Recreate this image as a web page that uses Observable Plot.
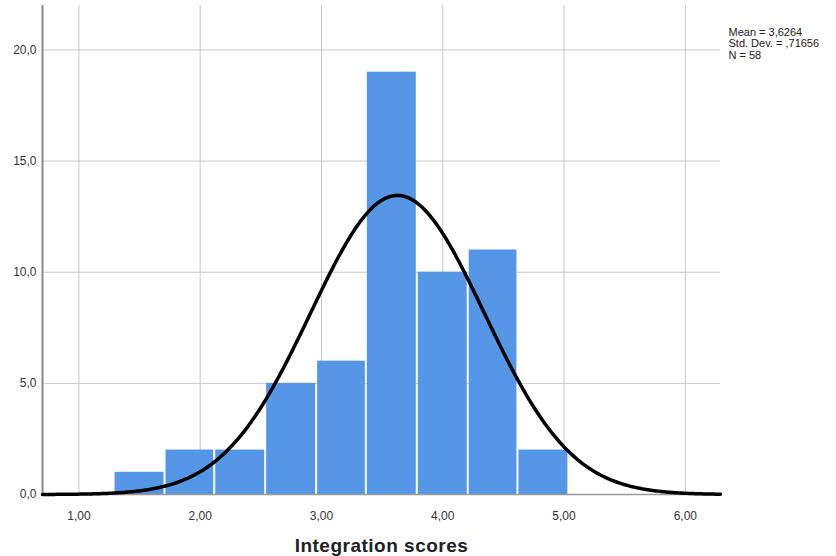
<!DOCTYPE html>
<html>
<head>
<meta charset="utf-8">
<script src="https://cdn.jsdelivr.net/npm/d3@7"></script>
<script src="https://cdn.jsdelivr.net/npm/@observablehq/plot@0.6"></script>
<style>
  html, body { margin: 0; padding: 0; background: #fff; }
  #chart { width: 836px; height: 556px; }
</style>
</head>
<body>
<div id="chart"></div>
<script>
// Histogram bin edges and counts
const binEdges = [1.29, 1.71, 2.12, 2.54, 2.96, 3.37, 3.79, 4.21, 4.62, 5.04];
const counts = [1, 2, 2, 5, 6, 19, 10, 11, 2];
// Reported statistics
const mean = 3.6264;
const stdDev = 0.71656;
const n = 58;
const statsLines = ["Mean = 3,6264", "Std. Dev. = ,71656", "N = 58"];
const xTicks = [1, 2, 3, 4, 5, 6];
const yTicks = [0, 5, 10, 15, 20];

const bins = counts.map((c, i) => ({x1: binEdges[i], x2: binEdges[i + 1], count: c}));
const binWidth = (binEdges[binEdges.length - 1] - binEdges[0]) / counts.length;

// Fitted normal curve from the reported mean, sd and N
const xDomain = [0.70, 6.29];
const curve = d3.range(0, 401).map(i => {
  const x = xDomain[0] + (xDomain[1] - xDomain[0]) * i / 400;
  const z = (x - mean) / stdDev;
  return {x, y: n * binWidth * Math.exp(-0.5 * z * z) / (stdDev * Math.sqrt(2 * Math.PI))};
});

const fmtX = d => d.toFixed(2).replace(".", ",");
const fmtY = d => d.toFixed(1).replace(".", ",");

const chart = Plot.plot({
  width: 836,
  height: 556,
  marginLeft: 42,
  marginRight: 116,
  marginTop: 5,
  marginBottom: 62,
  style: {fontFamily: "'Liberation Sans', Arial, sans-serif", fontSize: "12px", color: "#333", background: "#fff"},
  x: {domain: xDomain, ticks: xTicks, tickFormat: fmtX, label: null, tickSize: 0, tickPadding: 17},
  y: {domain: [0, 22], ticks: yTicks, tickFormat: fmtY, label: null, tickSize: 0, tickPadding: 6},
  marks: [
    Plot.gridX(xTicks, {stroke: "#c8c8c8", strokeOpacity: 1, strokeWidth: 1}),
    Plot.gridY(yTicks, {stroke: "#c8c8c8", strokeOpacity: 1, strokeWidth: 1}),
    Plot.rectY(bins, {x1: "x1", x2: "x2", y: "count", fill: "#5596e6", insetLeft: 1, insetRight: 1}),
    Plot.ruleY([0], {stroke: "#999", strokeWidth: 1.5}),
    Plot.ruleX([xDomain[0]], {stroke: "#888", strokeWidth: 2}),
    Plot.line(curve, {x: "x", y: "y", stroke: "#000", strokeWidth: 3.5, curve: "linear"}),
    Plot.axisX({ticks: xTicks, tickFormat: fmtX, tickSize: 0, tickPadding: 17, label: null, fill: "#333"}),
    Plot.axisY({ticks: yTicks, tickFormat: fmtY, tickSize: 0, tickPadding: 6, label: null, fill: "#333"}),
    Plot.text([statsLines.join("\n")], {frameAnchor: "top-right", textAnchor: "start", lineAnchor: "top", dx: 8, dy: 22, fontSize: 11, lineHeight: 1.05, fill: "#222"}),
    Plot.text(["Integration scores"], {frameAnchor: "bottom", lineAnchor: "middle", dy: 51, fontSize: 19, fontWeight: "bold", fill: "#222", style: "letter-spacing:0.5px"})
  ]
});
document.getElementById("chart").appendChild(chart);
// widen title spacing slightly to match the reference
chart.querySelectorAll("text").forEach(t => { if (t.textContent === "Integration scores") t.setAttribute("letter-spacing", "0.5"); });
</script>
</body>
</html>
